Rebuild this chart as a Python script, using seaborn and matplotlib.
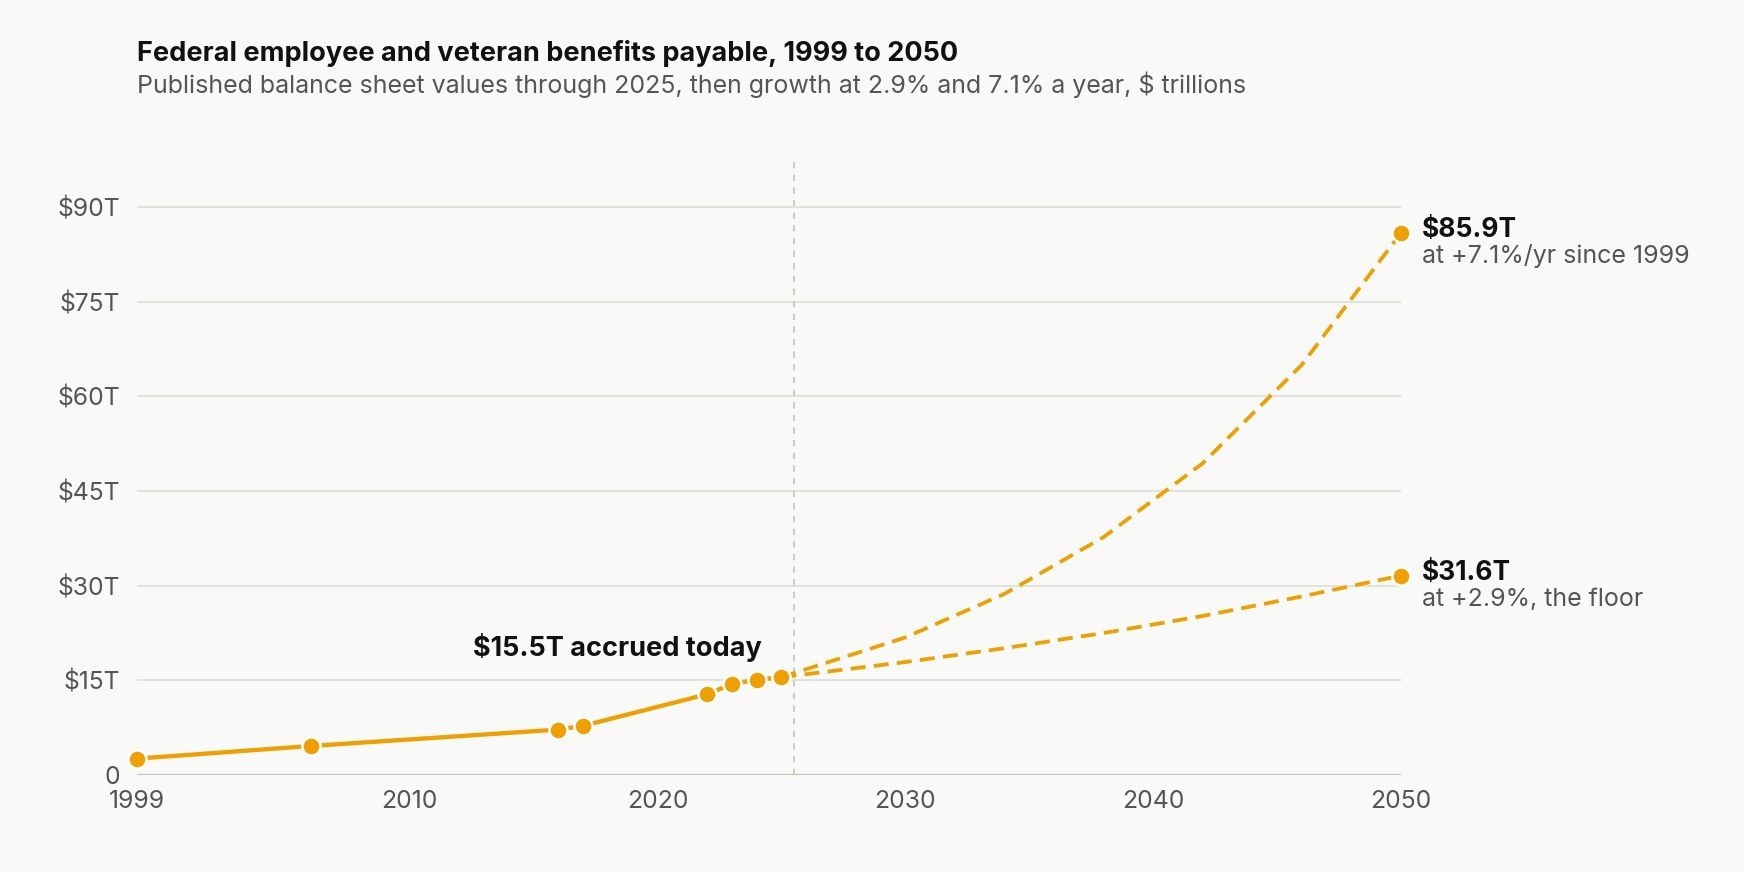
import matplotlib
matplotlib.use("Agg")
import matplotlib.pyplot as plt
import seaborn as sns
import pandas as pd

# ---- data ----
hist_years = [1999, 2006, 2016, 2017, 2022, 2023, 2024, 2025]
hist_values = [2.6, 4.6, 7.2, 7.8, 12.8, 14.4, 15.1, 15.5]

proj_years = [2025, 2030, 2034, 2038, 2042, 2046, 2050]
proj_high = [15.5, 21.8, 28.7, 37.7, 49.4, 65.0, 85.9]
proj_low = [15.5, 17.9, 20.1, 22.5, 25.2, 28.3, 31.6]

y_ticks = [0, 15, 30, 45, 60, 75, 90]
y_tick_labels = ["0", "$15T", "$30T", "$45T", "$60T", "$75T", "$90T"]
x_ticks = [1999, 2010, 2020, 2030, 2040, 2050]
x_tick_labels = ["1999", "2010", "2020", "2030", "2040", "2050"]

title = "Federal employee and veteran benefits payable, 1999 to 2050"
subtitle = "Published balance sheet values through 2025, then growth at 2.9% and 7.1% a year, $ trillions"
today_label = "$15.5T accrued today"
high_label = "$85.9T"
high_sub = "at +7.1%/yr since 1999"
low_label = "$31.6T"
low_sub = "at +2.9%, the floor"

# ---- style ----
BG = "#F9F9F7"
ORANGE = "#EDA000"
GRID = "#E2E2DC"
AXIS = "#C2C2B6"
DARK = "#111111"
GREY = "#555555"

sns.set_theme(style="white")
plt.rcParams["font.family"] = ["Inter", "DejaVu Sans"]

fig = plt.figure(figsize=(17.44, 8.72), dpi=100, facecolor=BG)
ax = fig.add_axes([0.0786, 0.1112, 0.8033 - 0.0786, 0.8154 - 0.1112])
ax.set_facecolor(BG)

hist_df = pd.DataFrame({"year": hist_years, "value": hist_values})
proj_df = pd.DataFrame({
    "year": proj_years * 2,
    "value": proj_high + proj_low,
    "scenario": ["high"] * len(proj_years) + ["low"] * len(proj_years),
})

# gridlines
for yt in y_ticks[1:]:
    ax.axhline(yt, color=GRID, lw=1.5, zorder=0)
ax.axhline(0, color=AXIS, lw=1.6, zorder=1)

# today divider
ax.axvline(2025.5, color="#C8C8C0", lw=1.3, ls=(0, (3.5, 3.5)), zorder=1)

# projections
for scen in ["high", "low"]:
    sub = proj_df[proj_df["scenario"] == scen]
    sns.lineplot(data=sub, x="year", y="value", ax=ax, color=ORANGE, lw=2.7,
                 zorder=2, estimator=None, sort=False)
    ax.lines[-1].set_linestyle((0, (4, 2.2)))
    end = sub[sub["year"] == proj_years[-1]]
    sns.scatterplot(data=end, x="year", y="value", ax=ax, color=ORANGE, s=170,
                    edgecolor="white", linewidth=1.8, zorder=5, clip_on=False)

# history
sns.lineplot(data=hist_df, x="year", y="value", ax=ax, color=ORANGE, lw=3.1,
             zorder=3, estimator=None)
sns.scatterplot(data=hist_df, x="year", y="value", ax=ax, color=ORANGE, s=170,
                edgecolor="white", linewidth=1.8, zorder=4, clip_on=False)

ax.set_xlim(1999, 2050)
ax.set_ylim(0, 97.3)
ax.set_xticks(x_ticks)
ax.set_xticklabels(x_tick_labels)
ax.set_yticks(y_ticks)
ax.set_yticklabels(y_tick_labels)
ax.tick_params(axis="both", length=0, labelsize=17.8, labelcolor=GREY)
ax.tick_params(axis="x", pad=11)
ax.tick_params(axis="y", pad=12)
ax.set_xlabel("")
ax.set_ylabel("")
for s in ax.spines.values():
    s.set_visible(False)
ax.grid(False)

# annotations
ax.annotate(today_label, xy=(hist_years[-1], hist_values[-1]), xytext=(-14, 15),
            textcoords="offset points", ha="right", va="baseline",
            fontsize=19.5, fontweight="bold", color=DARK)
for yr, val, lab, sub in [(proj_years[-1], proj_high[-1], high_label, high_sub),
                          (proj_years[-1], proj_low[-1], low_label, low_sub)]:
    ax.annotate(lab, xy=(yr, val), xytext=(15, -3), textcoords="offset points",
                ha="left", va="baseline", fontsize=19, fontweight="bold",
                color=DARK, annotation_clip=False)
    ax.annotate(sub, xy=(yr, val), xytext=(15, -22), textcoords="offset points",
                ha="left", va="baseline", fontsize=18, color=GREY,
                annotation_clip=False)

fig.text(0.0786, 0.930, title, ha="left", va="baseline", fontsize=19.5,
         fontweight="bold", color=DARK)
fig.text(0.0786, 0.893, subtitle, ha="left", va="baseline", fontsize=18,
         color=GREY)

fig.savefig("out.png", dpi=100, facecolor=BG)
